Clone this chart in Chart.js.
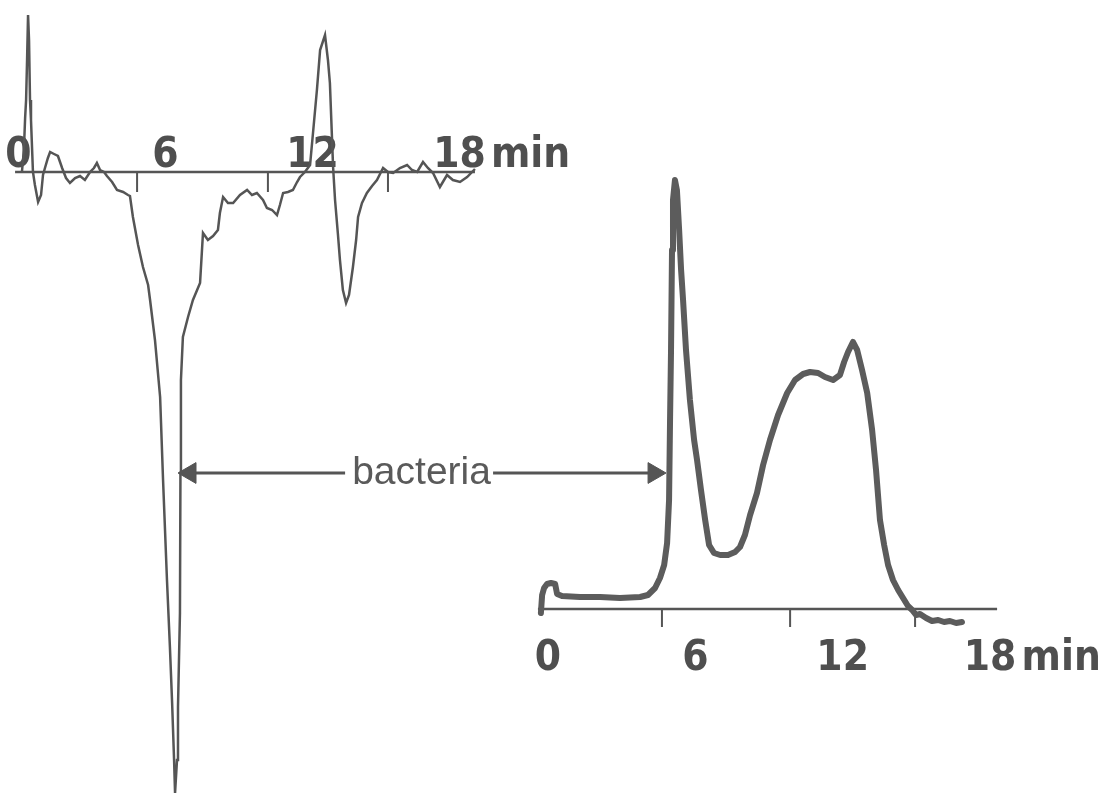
<!DOCTYPE html>
<html>
<head>
<meta charset="utf-8">
<script src="https://cdn.jsdelivr.net/npm/chart.js@4.4.1/dist/chart.umd.min.js"></script>
<style>
  html, body { margin: 0; padding: 0; background: #fff; }
  canvas { display: block; }
</style>
</head>
<body>
<canvas id="myChart" width="1098" height="796"></canvas>
<script>
// left trace (minutes, detector signal)
const leftTime = [0.14, 0.22, 0.27, 0.31, 0.35, 0.39, 0.43, 0.47, 0.51, 0.59, 0.67, 0.80, 0.92, 1.00, 1.08, 1.20, 1.29, 1.45, 1.61, 1.78,
  1.94, 2.10, 2.31, 2.51, 2.71, 2.92, 3.08, 3.20, 3.33, 3.49, 3.61, 3.82, 4.02, 4.27, 4.47, 4.55, 4.67, 4.88, 5.08, 5.29,
  5.37, 5.57, 5.78, 5.90, 6.06, 6.18, 6.27, 6.35, 6.39, 6.47, 6.51, 6.59, 6.61, 6.63, 6.71, 6.92, 7.12, 7.41, 7.53, 7.73,
  7.94, 8.14, 8.22, 8.35, 8.55, 8.76, 9.04, 9.33, 9.53, 9.73, 9.98, 10.14, 10.35, 10.55, 10.67, 10.80, 11.00, 11.20, 11.37, 11.49,
  11.69, 11.90, 12.02, 12.18, 12.31, 12.51, 12.63, 12.71, 12.84, 12.92, 13.04, 13.12, 13.24, 13.37, 13.49, 13.65, 13.78, 13.86, 14.02, 14.22,
  14.43, 14.63, 14.88, 15.08, 15.29, 15.57, 15.86, 16.06, 16.27, 16.51, 16.71, 16.92, 17.20, 17.49, 17.73, 18.02, 18.31, 18.63];
const leftSignal = [0, 2.2, 5.4, 7.2, 11.2, 15.7, 13.2, 7.2, 5.2, 0, -1.3, -3.0, -2.3, -0.3, 0.4, 1.4, 2.0, 1.8, 1.6, 0.4,
  -0.6, -1.1, -0.6, -0.4, -0.8, 0, 0.4, 0.9, 0.2, 0, -0.4, -1.0, -1.8, -2.0, -2.3, -2.4, -4.5, -7.3, -9.5, -11.3,
  -12.8, -16.8, -22.5, -30.8, -40.8, -47.5, -53.1, -58.8, -62.1, -58.8, -53.5, -44.1, -30.1, -20.8, -16.5, -14.5, -12.8, -11.1, -6.1, -6.8,
  -6.4, -5.8, -4.1, -2.5, -3.1, -3.1, -2.3, -1.8, -2.3, -2.1, -2.8, -3.6, -3.8, -4.3, -3.3, -2.1, -2.0, -1.8, -1.0, -0.5,
  0, 0.7, 3.9, 8.2, 12.2, 13.7, 11.2, 8.9, 0.5, -2.8, -6.3, -8.8, -11.8, -13.1, -12.3, -9.5, -6.8, -4.5, -3.1, -2.1,
  -1.4, -0.8, 0.4, 0, -0.1, 0.4, 0.7, 0.2, 0, 1.0, 0.4, -0.1, -1.5, -0.3, -0.8, -1.0, -0.5, 0.3];

// right trace (minutes, detector signal)
const rightTime = [-0.29, -0.24, -0.16, -0.04, 0.12, 0.29, 0.37, 0.57, 1.30, 2.12, 2.93, 3.75, 4.07, 4.36, 4.56, 4.73, 4.85, 4.93, 4.97, 5.01,
  5.05, 5.09, 5.17, 5.25, 5.34, 5.42, 5.50, 5.62, 5.78, 5.95, 6.07, 6.23, 6.40, 6.56, 6.76, 7.01, 7.33, 7.62, 7.82, 8.02,
  8.23, 8.51, 8.76, 9.04, 9.37, 9.74, 10.06, 10.39, 10.67, 11.00, 11.28, 11.61, 11.89, 12.06, 12.22, 12.42, 12.59, 12.79, 13.00, 13.20,
  13.36, 13.52, 13.69, 13.85, 14.05, 14.26, 14.46, 14.66, 14.83, 14.99, 15.15, 15.40, 15.64, 15.89, 16.13, 16.37, 16.62, 16.86];
const rightSignal = [-0.4, 1.4, 2.1, 2.5, 2.6, 2.5, 1.5, 1.3, 1.2, 1.2, 1.1, 1.2, 1.4, 2.1, 3.1, 4.4, 6.6, 10.9, 18.9, 25.9,
  35.9, 40.9, 42.9, 41.9, 37.9, 33.9, 30.9, 25.9, 20.9, 16.9, 14.9, 11.9, 8.9, 6.4, 5.6, 5.4, 5.4, 5.7, 6.2, 7.4,
  9.4, 11.6, 14.4, 16.9, 19.4, 21.6, 22.9, 23.5, 23.7, 23.6, 23.2, 22.9, 23.4, 24.7, 25.7, 26.7, 25.9, 23.9, 21.6, 17.9,
  13.9, 8.9, 6.4, 4.4, 2.9, 1.9, 1.1, 0.3, -0.1, -0.6, -0.5, -0.9, -1.2, -1.1, -1.3, -1.2, -1.4, -1.3];

// axis labels and event marks
const tickValues = [0, 6, 12, 18];
const tickLabels = ['0', '6', '12', '18'];
const unitLabel = 'min';
const leftMarks = [4.84, 10.18, 15.08];
const rightMarks = [4.64, 9.86, 14.95];
const annotationText = 'bacteria';

const INK = '#4f4f4f';
const UNIT_AT = 20.9;
const tickFont = { family: "'DejaVu Sans Condensed', 'Liberation Sans', sans-serif", size: 42, weight: 'bold', lineHeight: 1 };

function points(xs, ys) {
    return xs.map((x, i) => ({ x: x, y: ys[i] }));
}

function markSegments(marks, depth) {
    const out = [];
    marks.forEach(m => {
        out.push({ x: m, y: 0 }, { x: m, y: -depth }, { x: m, y: null });
    });
    return out;
}

function timeAxis(yId, min, max, padding) {
    const pos = {};
    pos[yId] = 0;
    return {
        type: 'linear',
        min: min,
        max: max,
        position: pos,
        grid: { display: false },
        border: { display: false },
        afterBuildTicks: (scale) => {
            // unit label first so the last tick ("18") keeps the layout free of overhang padding
            scale.ticks = [UNIT_AT].concat(tickValues).map(v => ({ value: v }));
        },
        ticks: {
            autoSkip: false,
            maxRotation: 0,
            minRotation: 0,
            padding: padding,
            color: INK,
            font: tickFont,
            callback: (value) => value === UNIT_AT ? unitLabel : tickLabels[tickValues.indexOf(value)]
        }
    };
}

// arrow linking the two bacteria peaks (left chart units)
const arrow = { start: 7.0, gapStart: 13.33, gapEnd: 19.37, end: 25.94, level: -30.1, textAt: 16.45 };

const labelPlugin = {
    id: 'bacteriaLabel',
    afterDatasetsDraw(chart) {
        const ctx = chart.ctx;
        const x = chart.scales.x1.getPixelForValue(arrow.textAt);
        const y = chart.scales.y1.getPixelForValue(arrow.level);
        ctx.save();
        ctx.font = "39px 'Liberation Sans', Arial, sans-serif";
        ctx.fillStyle = '#5a5a5a';
        ctx.textAlign = 'center';
        ctx.textBaseline = 'middle';
        ctx.fillText(annotationText, x, y);
        ctx.restore();
    }
};

const ctx = document.getElementById('myChart');
new Chart(ctx, {
    type: 'line',
    data: {
        datasets: [
            {
                label: 'left trace',
                data: points(leftTime, leftSignal),
                xAxisID: 'x1', yAxisID: 'y1',
                borderColor: '#555',
                borderWidth: 2.5,
                pointRadius: 0,
                tension: 0
            },
            {
                label: 'left axis',
                data: [{ x: -0.14, y: 0 }, { x: 18.63, y: 0 }],
                xAxisID: 'x1', yAxisID: 'y1',
                borderColor: '#555',
                borderWidth: 2.5,
                pointRadius: 0
            },
            {
                label: 'left marks',
                data: markSegments(leftMarks, 2.0),
                xAxisID: 'x1', yAxisID: 'y1',
                borderColor: '#555',
                borderWidth: 2,
                pointRadius: 0,
                spanGaps: false
            },
            {
                label: 'right trace',
                data: points(rightTime, rightSignal),
                xAxisID: 'x2', yAxisID: 'y2',
                borderColor: '#5c5c5c',
                borderWidth: 6,
                pointRadius: 0,
                tension: 0,
                borderJoinStyle: 'round',
                borderCapStyle: 'round'
            },
            {
                label: 'right axis',
                data: [{ x: -0.41, y: 0 }, { x: 18.29, y: 0 }],
                xAxisID: 'x2', yAxisID: 'y2',
                borderColor: '#555',
                borderWidth: 2.5,
                pointRadius: 0
            },
            {
                label: 'right marks',
                data: markSegments(rightMarks, 1.8),
                xAxisID: 'x2', yAxisID: 'y2',
                borderColor: '#555',
                borderWidth: 2,
                pointRadius: 0,
                spanGaps: false
            },
            {
                label: 'arrow',
                data: [
                    { x: arrow.start, y: arrow.level }, { x: arrow.gapStart, y: arrow.level }, { x: arrow.gapStart, y: null },
                    { x: arrow.gapEnd, y: arrow.level }, { x: arrow.end, y: arrow.level }
                ],
                xAxisID: 'x1', yAxisID: 'y1',
                borderColor: '#555',
                backgroundColor: '#555',
                borderWidth: 3,
                spanGaps: false,
                pointStyle: 'triangle',
                pointRadius: [12, 0, 0, 0, 12],
                pointRotation: [-90, 0, 0, 0, 90],
                pointBorderWidth: 1
            }
        ]
    },
    options: {
        responsive: false,
        animation: false,
        layout: { padding: 0, autoPadding: false },
        plugins: {
            legend: { display: false },
            tooltip: { enabled: false }
        },
        scales: {
            x1: timeAxis('y1', -0.755, 44.06, -44.5),
            x2: timeAxis('y2', -22.32, 22.40, 21),
            y1: { type: 'linear', display: false, min: -62.4, max: 17.2 },
            y2: { type: 'linear', display: false, min: -18.7, max: 60.9 }
        }
    },
    plugins: [labelPlugin]
});
</script>
</body>
</html>
